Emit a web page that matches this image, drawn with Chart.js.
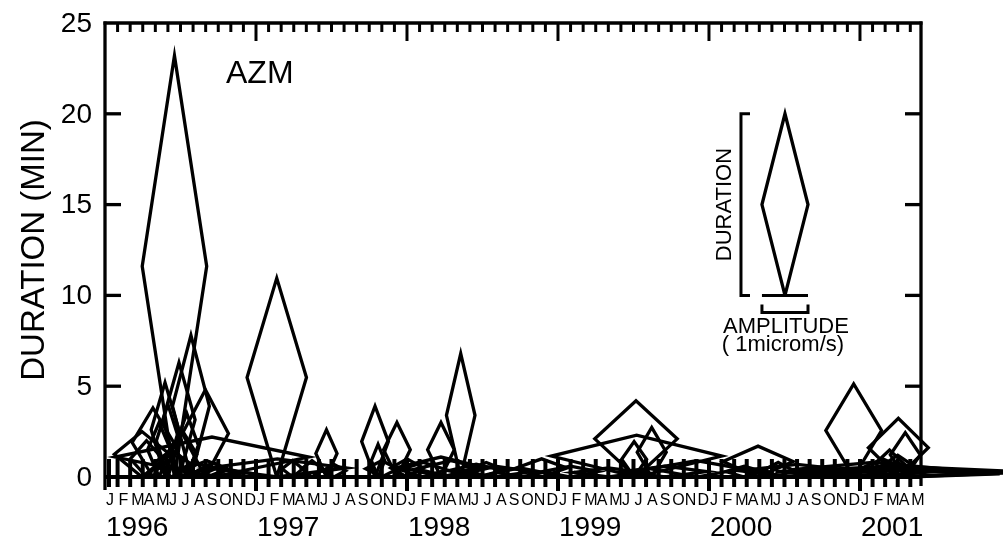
<!DOCTYPE html>
<html lang="en">
<head>
<meta charset="UTF-8">
<title>AZM durations</title>
<script src="https://cdn.jsdelivr.net/npm/chart.js"></script>
<style>
  html, body { margin: 0; padding: 0; background: #fff; }
  #wrap { width: 1003px; height: 540px; }
</style>
</head>
<body>
<div id="wrap"><canvas id="azmChart" width="1003" height="540"></canvas></div>
<script>
// event centre, in months since Jan 1996
const eventMonth = [
  2.94, 3.3, 3.81, 4.3, 4.77, 5.0, 5.3, 5.52, 5.88, 6.2, 6.5, 6.83, 7.3, 7.98, 8.1, 8.5, 8.6, 9.0,
  13.65, 13.7, 14.9, 16.45, 17.6, 18.2, 21.46, 21.7, 22.0, 23.2, 24.0,
  25.3, 26.7, 26.7, 27.5, 28.27, 29.5, 30.3, 31.0, 33.0, 34.7,
  37.0, 40.0, 42.05, 42.2, 42.25, 43.45, 44.5, 47.0,
  50.8, 51.9, 53.5, 55.0, 57.0, 58.5, 59.5,
  61.0, 61.8, 62.35, 62.8, 62.8, 63.0, 63.05, 63.2, 63.6, 63.6
];
// duration (min)
const eventDuration = [
  2.5, 2.0, 3.8, 3.0, 5.2, 4.0, 1.5, 23.2, 6.3, 2.5, 3.5, 7.8, 0.8, 4.8, 0.9, 2.2, 0.8, 0.5,
  10.95, 1.0, 0.9, 0.9, 2.6, 0.7, 3.9, 1.8, 0.9, 3.0, 1.0,
  0.8, 3.0, 1.1, 0.9, 6.8, 0.7, 0.8, 0.6, 0.5, 1.0,
  0.6, 0.5, 1.95, 4.2, 2.3, 2.73, 0.6, 0.9,
  0.6, 1.7, 0.8, 0.7, 0.5, 0.4, 5.12,
  0.8, 1.0, 1.49, 0.8, 0.6, 1.2, 3.23, 0.45, 2.44, 0.35
];
// amplitude (microm/s)
const eventAmplitude = [
  1.2, 0.7, 0.9, 0.5, 0.6, 0.5, 0.8, 1.4, 0.7, 0.6, 0.5, 0.8, 0.7, 1.0, 0.9, 4.2, 0.6, 1.2,
  1.29, 3.0, 0.45, 0.45, 0.46, 0.5, 0.58, 0.29, 0.7, 0.58, 0.7,
  1.0, 0.58, 1.8, 1.5, 0.62, 1.2, 0.8, 1.6, 1.0, 1.1,
  1.2, 1.5, 0.54, 1.79, 3.7, 0.63, 1.8, 2.0,
  0.8, 1.52, 0.6, 2.5, 1.5, 2.0, 1.21,
  3.5, 0.9, 0.62, 1.2, 5.2, 0.7, 1.3, 4.6, 0.65, 4.1
];

const monthLetters = ['J', 'F', 'M', 'A', 'M', 'J', 'J', 'A', 'S', 'O', 'N', 'D'];
const yearLabels = ['1996', '1997', '1998', '1999', '2000', '2001'];
const yTicks = [0, 5, 10, 15, 20, 25];

// key diamond: 1 microm/s wide, 10 min tall, standing on 10 min
const keyMonth = 54.04;
const keyBase = 10;
const keyDuration = 10;
const keyAmplitude = 1;

const xMax = 64.85;          // end of axis, months
const lastMonth = 64;        // May 2001
const monthsPerAmp = 3.66;   // horizontal size of 1 microm/s
const FONT = '"Liberation Sans", Arial, Helvetica, sans-serif';

function diamond(m, dur, amp, base) {
  const h = amp * monthsPerAmp / 2;
  return [
    { x: m, y: base },
    { x: m - h, y: base + dur / 2 },
    { x: m, y: base + dur },
    { x: m + h, y: base + dur / 2 },
    { x: m, y: base }
  ];
}

const lineStyle = {
  showLine: true,
  borderColor: '#000',
  borderWidth: 3.3,
  pointRadius: 0,
  fill: false,
  clip: false,
  tension: 0
};

const datasets = eventMonth.map((m, i) =>
  Object.assign({ data: diamond(m, eventDuration[i], eventAmplitude[i], 0) }, lineStyle));
datasets.push(Object.assign({ data: diamond(keyMonth, keyDuration, keyAmplitude, keyBase) }, lineStyle));

function line(ctx, x1, y1, x2, y2, w) {
  ctx.lineWidth = w || 3;
  ctx.beginPath();
  ctx.moveTo(x1, y1);
  ctx.lineTo(x2, y2);
  ctx.stroke();
}

const framePlugin = {
  id: 'frame',
  afterDatasetsDraw(chart) {
    const ctx = chart.ctx;
    const xs = chart.scales.x, ys = chart.scales.y;
    const L = xs.left, R = xs.right, T = ys.top, B = ys.bottom;
    ctx.save();
    ctx.strokeStyle = '#000';
    ctx.fillStyle = '#000';
    ctx.lineCap = 'butt';

    // box
    line(ctx, L, T - 1.5, L, B + 13, 3.3);
    line(ctx, R, T - 1.5, R, B + 9, 3.3);
    line(ctx, L - 1.5, T, R + 1.5, T, 3.3);
    line(ctx, L, B, R, B, 4);

    // month ticks top and bottom
    for (let m = 1; m < xMax; m++) {
      const x = xs.getPixelForValue(m);
      const isYear = m % 12 === 0;
      line(ctx, x, T, x, T + (isYear ? 18 : 9));
      line(ctx, x, B - 18, x, B + (isYear ? 14 : 10), 4);
    }
    line(ctx, L + 4, B - 18, L + 4, B + 10, 4);

    // y ticks
    ctx.font = '28px ' + FONT;
    ctx.textAlign = 'right';
    ctx.textBaseline = 'middle';
    yTicks.forEach(v => {
      const y = ys.getPixelForValue(v);
      if (v > 0 && v < 25) {
        line(ctx, L, y, L + 16, y, 3.3);
        line(ctx, R - 16, y, R, y, 3.3);
      }
      ctx.fillText(String(v), L - 13, y + 1);
    });

    // month letters
    ctx.font = '16px ' + FONT;
    ctx.textAlign = 'left';
    ctx.textBaseline = 'middle';
    for (let m = 0; m <= lastMonth; m++) {
      ctx.fillText(monthLetters[m % 12], xs.getPixelForValue(m) + 1, B + 24);
    }

    // years
    ctx.font = '28px ' + FONT;
    yearLabels.forEach((lab, i) => {
      ctx.fillText(lab, xs.getPixelForValue(i * 12) + 1, B + 51);
    });

    // axis title
    ctx.save();
    ctx.translate(35, (T + B) / 2);
    ctx.rotate(-Math.PI / 2);
    ctx.font = '33px ' + FONT;
    ctx.textAlign = 'center';
    ctx.fillText('DURATION (MIN)', 0, 0);
    ctx.restore();

    // station name
    ctx.font = '32px ' + FONT;
    ctx.textAlign = 'left';
    ctx.fillText('AZM', 226, 74);

    // key brackets and text
    const kx = xs.getPixelForValue(keyMonth);
    const half = (xs.getPixelForValue(keyMonth + keyAmplitude * monthsPerAmp / 2) - kx);
    const kTop = ys.getPixelForValue(keyBase + keyDuration);
    const kBot = ys.getPixelForValue(keyBase);
    const bx = kx - 44;
    ctx.lineWidth = 3;
    ctx.beginPath();
    ctx.moveTo(bx + 9, kTop);
    ctx.lineTo(bx, kTop);
    ctx.lineTo(bx, kBot);
    ctx.lineTo(bx + 9, kBot);
    ctx.stroke();
    line(ctx, kx - half, kBot, kx + half, kBot);
    ctx.beginPath();
    ctx.moveTo(kx - half, kBot + 9);
    ctx.lineTo(kx - half, kBot + 17);
    ctx.lineTo(kx + half, kBot + 17);
    ctx.lineTo(kx + half, kBot + 9);
    ctx.stroke();

    ctx.save();
    ctx.translate(bx - 16, (kTop + kBot) / 2);
    ctx.rotate(-Math.PI / 2);
    ctx.font = '22px ' + FONT;
    ctx.textAlign = 'center';
    ctx.fillText('DURATION', 0, 0);
    ctx.restore();

    ctx.font = '22px ' + FONT;
    ctx.textAlign = 'center';
    ctx.fillText('AMPLITUDE', kx + 1, kBot + 32);
    ctx.fillText('( 1microm/s)', kx - 2, kBot + 50);
    ctx.restore();
  }
};

new Chart(document.getElementById('azmChart').getContext('2d'), {
  type: 'scatter',
  data: { datasets: datasets },
  options: {
    responsive: false,
    animation: false,
    events: [],
    layout: { padding: { left: 105, right: 82, top: 23, bottom: 63 } },
    plugins: { legend: { display: false }, tooltip: { enabled: false } },
    scales: {
      x: { type: 'linear', min: 0, max: xMax, display: false },
      y: { type: 'linear', min: 0, max: 25, display: false }
    }
  },
  plugins: [framePlugin]
});
</script>
</body>
</html>
